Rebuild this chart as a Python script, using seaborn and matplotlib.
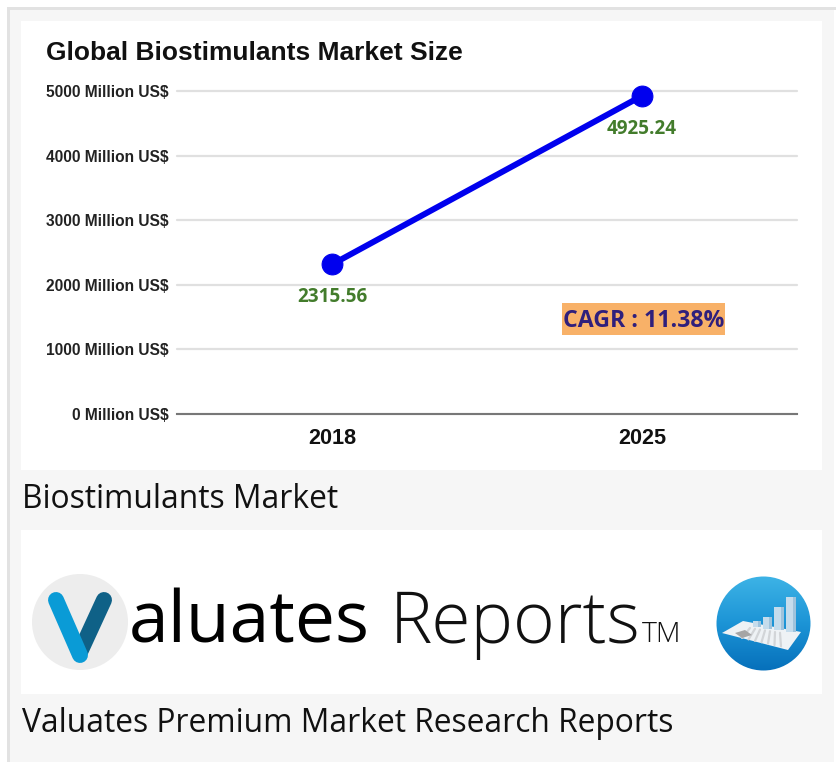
import numpy as np
import matplotlib
matplotlib.use("Agg")
import matplotlib.pyplot as plt
from matplotlib.patches import Rectangle, Circle, Polygon
import pandas as pd
import seaborn as sns

years = ["2018", "2025"]
market_size = [2315.56, 4925.24]
size_labels = ["2315.56", "4925.24"]
y_ticks = [0, 1000, 2000, 3000, 4000, 5000]
y_tick_labels = ["0 Million US$", "1000 Million US$", "2000 Million US$", "3000 Million US$",
                 "4000 Million US$", "5000 Million US$"]

W, H = 836, 762

sns.set_theme(style="white")
plt.rcParams["font.family"] = ["Liberation Sans", "DejaVu Sans"]

fig = plt.figure(figsize=(W / 100, H / 100), dpi=100, facecolor="white")

# page furniture, in pixel coordinates
bg = fig.add_axes([0, 0, 1, 1], zorder=0)
bg.set_xlim(0, W)
bg.set_ylim(H, 0)
bg.axis("off")
bg.add_patch(Rectangle((7, 7), 827, 755, fc="#f6f6f6", ec="none"))
bg.add_patch(Rectangle((7, 7), 829, 3, fc="#e2e2e2", ec="none"))
bg.add_patch(Rectangle((7, 7), 3, 755, fc="#e2e2e2", ec="none"))
bg.add_patch(Rectangle((21, 21), 801, 449, fc="white", ec="none"))
bg.add_patch(Rectangle((21, 530), 801, 164, fc="white", ec="none"))

bg.text(46, 53, "Global Biostimulants Market Size", fontsize=19, fontweight="bold",
        color="#111111", va="center", ha="left")
bg.text(22, 499, "Biostimulants Market", family="Open Sans", fontsize=22.85, color="#111111",
        va="center", ha="left")
bg.text(22, 723, "Valuates Premium Market Research Reports", family="Open Sans", fontsize=22.85,
        color="#111111", va="center", ha="left")

# valuates logo
bg.add_patch(Circle((80, 622), 48, fc="#ededed", ec="none"))
bg.plot([104, 81], [600, 650], color="#0f6187", lw=11.5, solid_capstyle="round")
bg.plot([56, 80], [600, 655], color="#0a9bd6", lw=11.5, solid_capstyle="round")
bg.text(129, 624, "aluates", family="Open Sans", fontsize=51.4, color="black", va="center", ha="left")
bg.text(390, 624, "Reports", family="Open Sans", fontweight="light", fontsize=51.4, color="#111111",
        va="center", ha="left")
bg.text(642, 635, "TM", family="Open Sans", fontweight="light", fontsize=20.5, color="#111111",
        va="center", ha="left")

# round report icon
grad = np.linspace(0, 1, 100).reshape(-1, 1)
cmap = matplotlib.colors.LinearSegmentedColormap.from_list("ico", ["#3db3e6", "#1c94d6", "#0670bb"])
im = bg.imshow(grad, cmap=cmap, extent=(716, 811, 671, 576), aspect="auto", zorder=2)
im.set_clip_path(Circle((763.5, 623.5), 47, transform=bg.transData))
bg.set_xlim(0, W)
bg.set_ylim(H, 0)
bg.add_patch(Polygon([[722, 633], [743, 621], [801, 632], [788, 650]], fc="#eef2f5", ec="none", zorder=3))
for k in range(7):
    bg.plot([750 + k * 5, 742 + k * 6.5], [628 + k * 0.8, 638 + k * 1.4], color="#d2d5d8", lw=1.6, zorder=3)
for x0, top, wd, base in [(753, 621, 8, 627), (763, 617, 9, 629), (774, 607, 10, 630), (786, 597, 10, 632)]:
    bg.add_patch(Rectangle((x0, top), wd, base - top, fc="#c5dcec", ec="none", zorder=4))
    bg.add_patch(Rectangle((x0 + wd * 0.65, top), wd * 0.35, base - top, fc="#9fc3dc", ec="none", zorder=4))
bg.add_patch(Polygon([[735, 633], [745, 630], [752, 635], [742, 638]], fc="#a5a5a5", ec="none", zorder=4))

# chart
ax = fig.add_axes([177 / W, 1 - 414 / H, 620 / W, 323 / H], zorder=2)
ax.patch.set_alpha(0)
df = pd.DataFrame({"year": years, "size": market_size})
sns.lineplot(data=df, x="year", y="size", ax=ax, color="#0000ee", lw=4.3, marker="o", markersize=15,
             markeredgecolor="#0000ee", clip_on=False, zorder=5)
ax.set_xlim(-0.5, 1.5)
ax.set_ylim(0, 5000)
ax.set_xlabel("")
ax.set_ylabel("")
ax.set_yticks(y_ticks)
ax.set_yticklabels(y_tick_labels, fontsize=11.2, fontweight="bold", color="#222222")
ax.set_xticks(range(len(years)))
ax.set_xticklabels(years, fontsize=15.6, fontweight="bold", color="#111111")
ax.tick_params(axis="y", length=0, pad=5.8)
ax.tick_params(axis="x", length=0, pad=10)
ax.grid(axis="y", color="#e0e0e0", lw=1.6, clip_on=False)
ax.set_axisbelow(True)
for side in ["top", "left", "right"]:
    ax.spines[side].set_visible(False)
ax.spines["bottom"].set_color("#777777")
ax.spines["bottom"].set_linewidth(1.5)

for i, (v, lab) in enumerate(zip(market_size, size_labels)):
    ax.annotate(lab, (i, v), xytext=(0, -23), textcoords="offset pixels", ha="center", va="top",
                family="Open Sans", fontweight="bold", fontsize=13.6, color="#437c2c")

bg2 = fig.add_axes([0, 0, 1, 1], zorder=3)
bg2.set_xlim(0, W)
bg2.set_ylim(H, 0)
bg2.axis("off")
bg2.add_patch(Rectangle((562, 303), 163, 32, fc="#f8b168", ec="none"))
bg2.text(643.5, 321, "CAGR : 11.38%", family="Open Sans", fontweight="bold", fontsize=16.7,
         color="#2f1f7c", va="center", ha="center")

fig.savefig("out.png", dpi=100, facecolor="white")
